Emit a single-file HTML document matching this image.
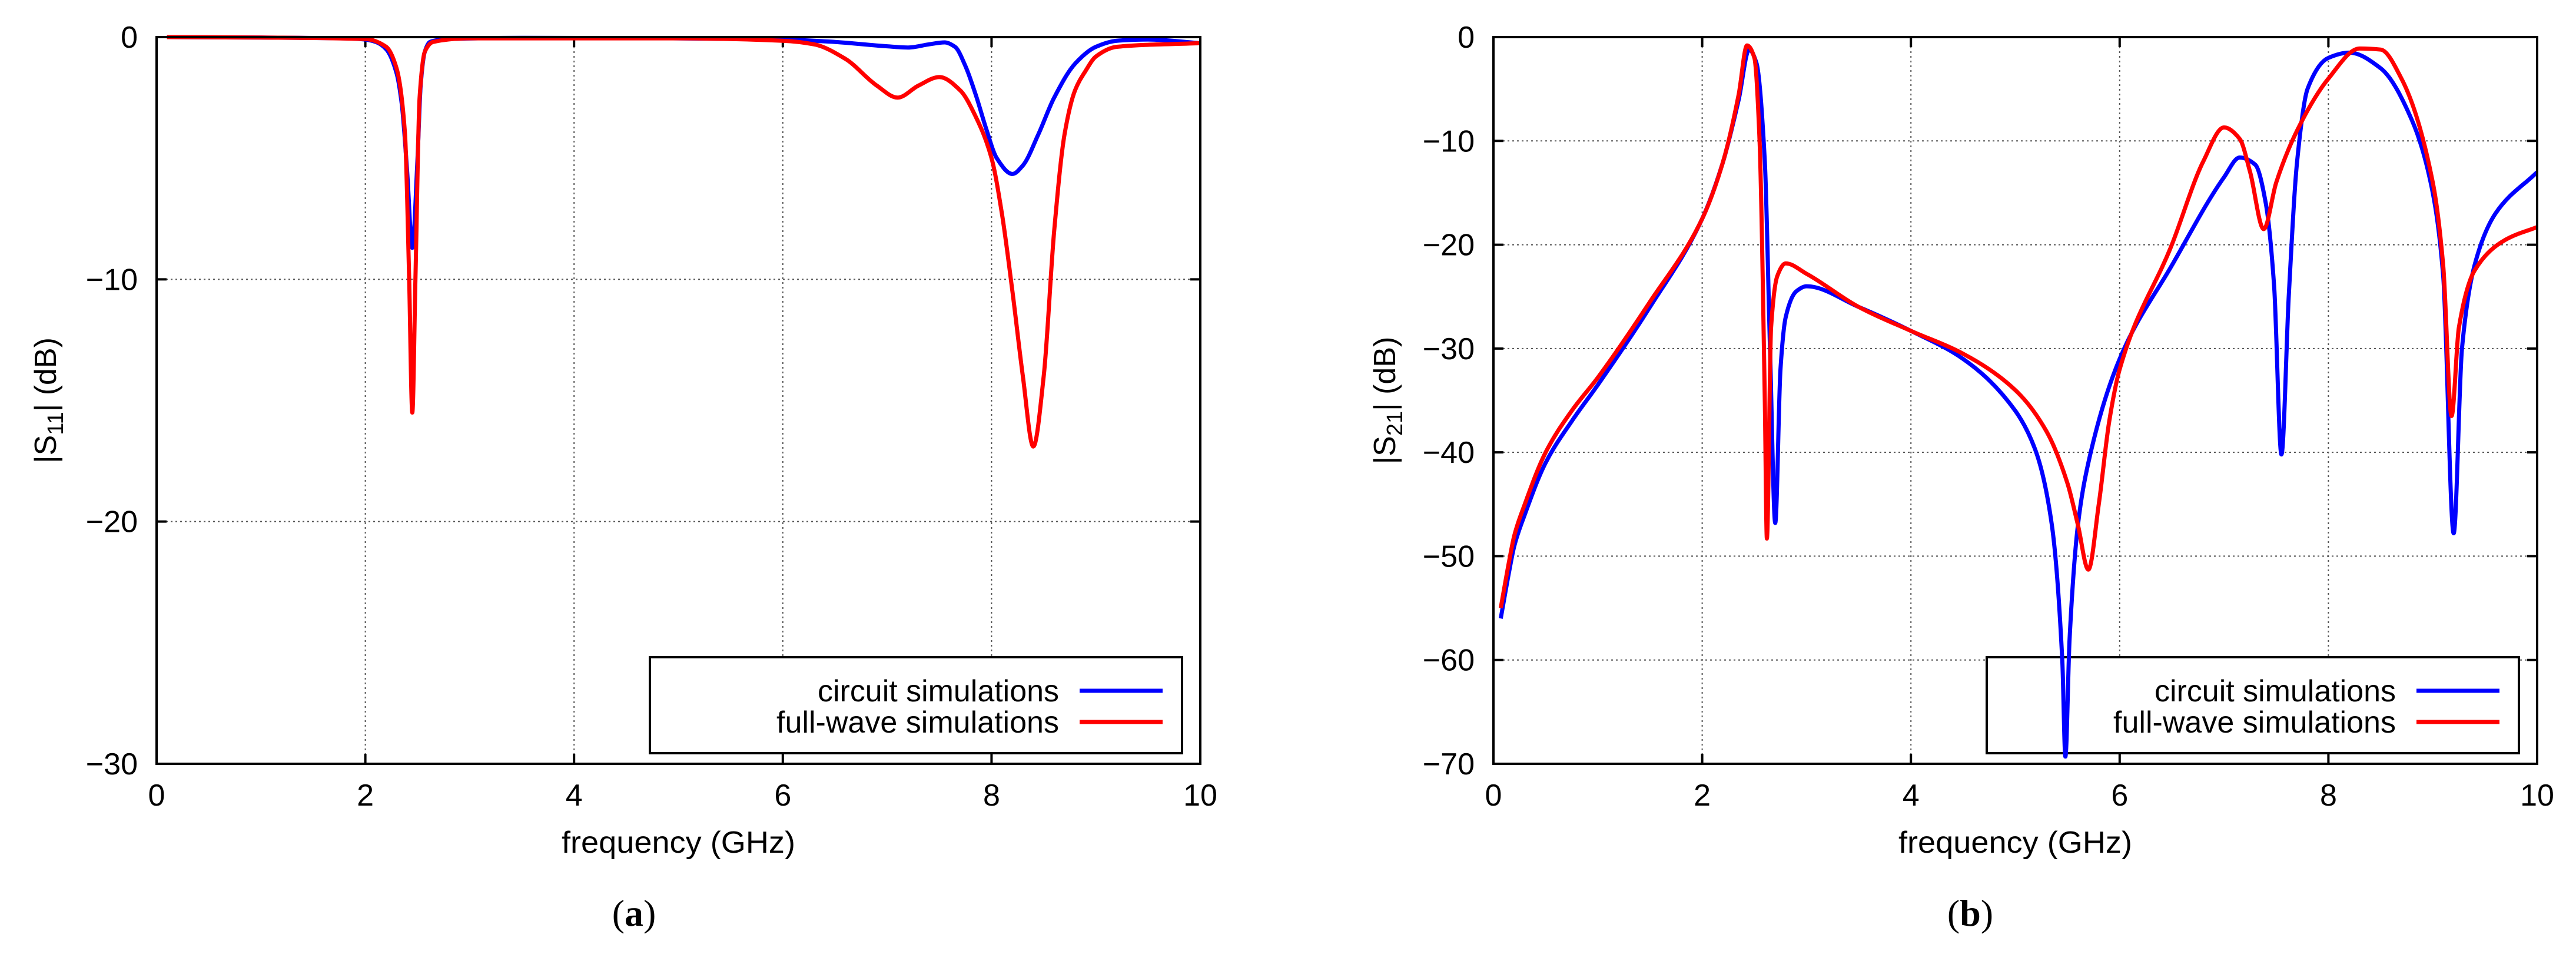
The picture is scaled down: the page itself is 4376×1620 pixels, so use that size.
<!DOCTYPE html>
<html><head><meta charset="utf-8"><style>html,body{margin:0;padding:0;background:#fff}svg{display:block}</style></head>
<body>
<svg id="fig" width="4376" height="1620" viewBox="0 0 4376 1620" xmlns="http://www.w3.org/2000/svg" font-family="'Liberation Sans', sans-serif"></svg>
<script>
const xTicks=[0,2,4,6,8,10];
const yTicksA=[0,-10,-20,-30];
const yTicksB=[0,-10,-20,-30,-40,-50,-60,-70];
const seriesNames=["circuit simulations","full-wave simulations"];
const s11CircuitF=[0.1,1.0,1.8,2.0,2.1,2.2,2.3,2.35,2.4,2.45,2.5,2.53,2.57,2.62,2.8,3.5,5,6,6.5,7.0,7.2,7.4,7.55,7.65,7.75,7.85,7.95,8.05,8.2,8.3,8.45,8.6,8.8,9.0,9.2,9.5,10];
const s11CircuitV=[0,-0.02,-0.05,-0.1,-0.2,-0.5,-1.5,-2.8,-5.5,-8.7,-5,-2,-0.6,-0.2,-0.08,-0.03,-0.05,-0.1,-0.2,-0.38,-0.43,-0.3,-0.22,-0.4,-1.2,-2.4,-3.8,-5.0,-5.65,-5.3,-4,-2.5,-1.1,-0.4,-0.15,-0.1,-0.25];
const s11FullF=[0.1,1.0,2.0,2.2,2.3,2.38,2.42,2.45,2.48,2.52,2.57,2.65,3,5,6,6.3,6.6,6.9,7.1,7.3,7.5,7.7,7.85,8.0,8.1,8.2,8.3,8.4,8.5,8.6,8.7,8.8,8.9,9.0,9.2,10];
const s11FullV=[0,-0.02,-0.08,-0.4,-1.3,-4,-10,-15.5,-10,-2.5,-0.6,-0.2,-0.05,-0.05,-0.15,-0.3,-0.9,-2.0,-2.5,-2.0,-1.65,-2.2,-3.3,-5.0,-7.3,-10.5,-14,-16.9,-14,-8,-4,-2.2,-1.4,-0.8,-0.4,-0.25];
const s21CircuitF=[0.07,0.15,0.2,0.3,0.5,0.75,1.0,1.5,2.0,2.2,2.35,2.45,2.52,2.6,2.65,2.7,2.75,2.8,2.9,3.0,3.5,4.0,4.5,5.0,5.2,5.35,5.45,5.48,5.52,5.6,5.7,6.0,6.5,7.0,7.15,7.3,7.4,7.48,7.55,7.62,7.7,7.8,8.0,8.2,8.5,8.8,9.0,9.1,9.2,9.28,9.4,9.6,10];
const s21CircuitV=[-56,-51.5,-49,-46,-41,-37,-33.5,-26,-17.5,-12,-6,-1.2,-2.5,-12,-30,-46.8,-32,-27,-24.5,-24,-26,-28.3,-31,-36,-40,-47,-60,-69.3,-58,-47,-41,-31,-22,-13.5,-11.6,-12.3,-16,-24,-40.2,-25,-12,-5,-2,-1.5,-3,-8,-15,-23,-47.8,-30,-22,-17,-13];
const s21FullF=[0.07,0.15,0.2,0.3,0.5,0.75,1.0,1.5,2.0,2.2,2.35,2.43,2.5,2.55,2.6,2.62,2.66,2.72,2.8,3.0,3.5,4.0,4.5,5.0,5.3,5.5,5.6,5.7,5.8,5.9,6.0,6.5,6.8,7.0,7.15,7.25,7.38,7.5,7.7,8.0,8.3,8.5,8.7,9.0,9.1,9.18,9.25,9.4,9.7,10];
const s21FullV=[-55,-50.5,-48,-45,-40,-36,-32.8,-25.5,-17.5,-12,-5.5,-0.8,-2,-10,-35,-48.3,-28,-23,-21.8,-22.8,-26,-28.3,-30.5,-34,-38,-43,-47,-51.3,-45,-37,-32,-20,-12,-8.7,-9.8,-13,-18.5,-14,-9,-4,-1.1,-1.2,-4,-14,-22,-36.5,-28,-22.5,-19.5,-18.3];

const NS="http://www.w3.org/2000/svg";
const svg=document.getElementById('fig');
function mk(tag,attrs,parent){const e=document.createElementNS(NS,tag);for(const k in attrs)e.setAttribute(k,attrs[k]);(parent||svg).appendChild(e);return e;}

function monotonePath(xs,ys){
  const n=xs.length;const d=[],m=[];
  for(let i=0;i<n-1;i++)d.push((ys[i+1]-ys[i])/(xs[i+1]-xs[i]));
  m[0]=d[0];m[n-1]=d[n-2];
  for(let i=1;i<n-1;i++){
    if(d[i-1]*d[i]<=0)m[i]=0;
    else{const w1=2*(xs[i+1]-xs[i])+(xs[i]-xs[i-1]),w2=(xs[i+1]-xs[i])+2*(xs[i]-xs[i-1]);m[i]=(w1+w2)/(w1/d[i-1]+w2/d[i]);}
  }
  let p='M'+xs[0].toFixed(1)+','+ys[0].toFixed(1);
  for(let i=0;i<n-1;i++){
    const h=(xs[i+1]-xs[i])/3;
    p+=' C'+(xs[i]+h).toFixed(1)+','+(ys[i]+m[i]*h).toFixed(1)+' '+(xs[i+1]-h).toFixed(1)+','+(ys[i+1]-m[i+1]*h).toFixed(1)+' '+xs[i+1].toFixed(1)+','+ys[i+1].toFixed(1);
  }
  return p;
}

function panel(cfg){
  const g=mk('g',{});
  
  
  const L=cfg.left,R=cfg.right,T=63,B=1297;
  const sx=v=>L+(v-0)/(10-0)*(R-L);
  const sy=v=>T+(0-v)/(0-cfg.ymin)*(B-T);
  xTicks.forEach(t=>{
    if(t>0&&t<10){const l=mk('line',{x1:sx(t),x2:sx(t),y1:T,y2:B,stroke:'#555','stroke-width':2,'stroke-dasharray':'3,5'},g);
    }
    mk('line',{x1:sx(t),x2:sx(t),y1:B,y2:B-17,stroke:'#000','stroke-width':4},g);
    mk('line',{x1:sx(t),x2:sx(t),y1:T,y2:T+17,stroke:'#000','stroke-width':4},g);
    const tx=mk('text',{x:sx(t),y:1368,'font-size':52,'text-anchor':'middle'},g);
    tx.textContent=String(t);
    
  });
  cfg.yticks.forEach(t=>{
    if(t<0&&t>cfg.ymin){const l=mk('line',{x1:L,x2:R,y1:sy(t),y2:sy(t),stroke:'#555','stroke-width':2,'stroke-dasharray':'3,5'},g);
    }
    mk('line',{x1:L,x2:L+17,y1:sy(t),y2:sy(t),stroke:'#000','stroke-width':4},g);
    mk('line',{x1:R,x2:R-17,y1:sy(t),y2:sy(t),stroke:'#000','stroke-width':4},g);
    const tx=mk('text',{x:L-32,y:sy(t)+18,'font-size':52,'text-anchor':'end'},g);
    tx.textContent=t<0?'\u2212'+Math.abs(t):String(t);
    
  });
  const lg=mk('g',{},g);
  
  mk('rect',{x:R-935,y:1116,width:904,height:163,fill:'#fff',stroke:'#000','stroke-width':4},lg);
  const colors=['#0000ff','#ff0000'];
  seriesNames.forEach((n,i)=>{
    const y=1173+i*53;
    const tx=mk('text',{x:R-240,y:y+18,'font-size':52,'text-anchor':'end',textLength:i===0?410:480,lengthAdjust:'spacingAndGlyphs'},lg);
    tx.textContent=n;
    
    mk('line',{x1:R-205,x2:R-64,y1:y,y2:y,stroke:colors[i],'stroke-width':7},lg);
  });
  const cp=mk('clipPath',{id:'clip'+cfg.name},g);
  mk('rect',{x:L,y:T-4,width:R-L,height:B-T+8},cp);
  cfg.series.forEach((s,i)=>{
    const d=monotonePath(s[0].map(sx),s[1].map(sy));
    const p=mk('path',{d:d,fill:'none',stroke:colors[i],'stroke-width':7,'stroke-linejoin':'round','clip-path':'url(#clip'+cfg.name+')'},g);
    
    
  });
  const fr=mk('rect',{x:L,y:T,width:R-L,height:B-T,fill:'none',stroke:'#000','stroke-width':4},g);
  
  const xl=mk('text',{x:(L+R)/2,y:1448,'font-size':52,'text-anchor':'middle',textLength:397,lengthAdjust:'spacingAndGlyphs'},g);
  xl.textContent='frequency  (GHz)';
  
  const yl=mk('text',{x:0,y:0,'font-size':52,'text-anchor':'middle',transform:'translate('+(cfg.ylx)+','+((T+B)/2)+') rotate(-90)'},g);
  yl.innerHTML='|S<tspan font-size="38" dy="12">'+cfg.sub+'</tspan><tspan dy="-12">| (dB)</tspan>';
  
  const cap=mk('text',{x:cfg.capx,y:1572,'font-size':64,'text-anchor':'middle','font-family':"'Liberation Serif', serif"},g);
  cap.innerHTML='(<tspan font-weight="bold">'+cfg.cap+'</tspan>)';
  
}
panel({name:'panel-a-s11',left:266,right:2039,ymin:-30,yticks:yTicksA,series:[[s11CircuitF,s11CircuitV],[s11FullF,s11FullV]],ylx:95,sub:'11',capx:1077,cap:'a'});
panel({name:'panel-b-s21',left:2537,right:4310,ymin:-70,yticks:yTicksB,series:[[s21CircuitF,s21CircuitV],[s21FullF,s21FullV]],ylx:2370,sub:'21',capx:3347,cap:'b'});
</script>
</body></html>
